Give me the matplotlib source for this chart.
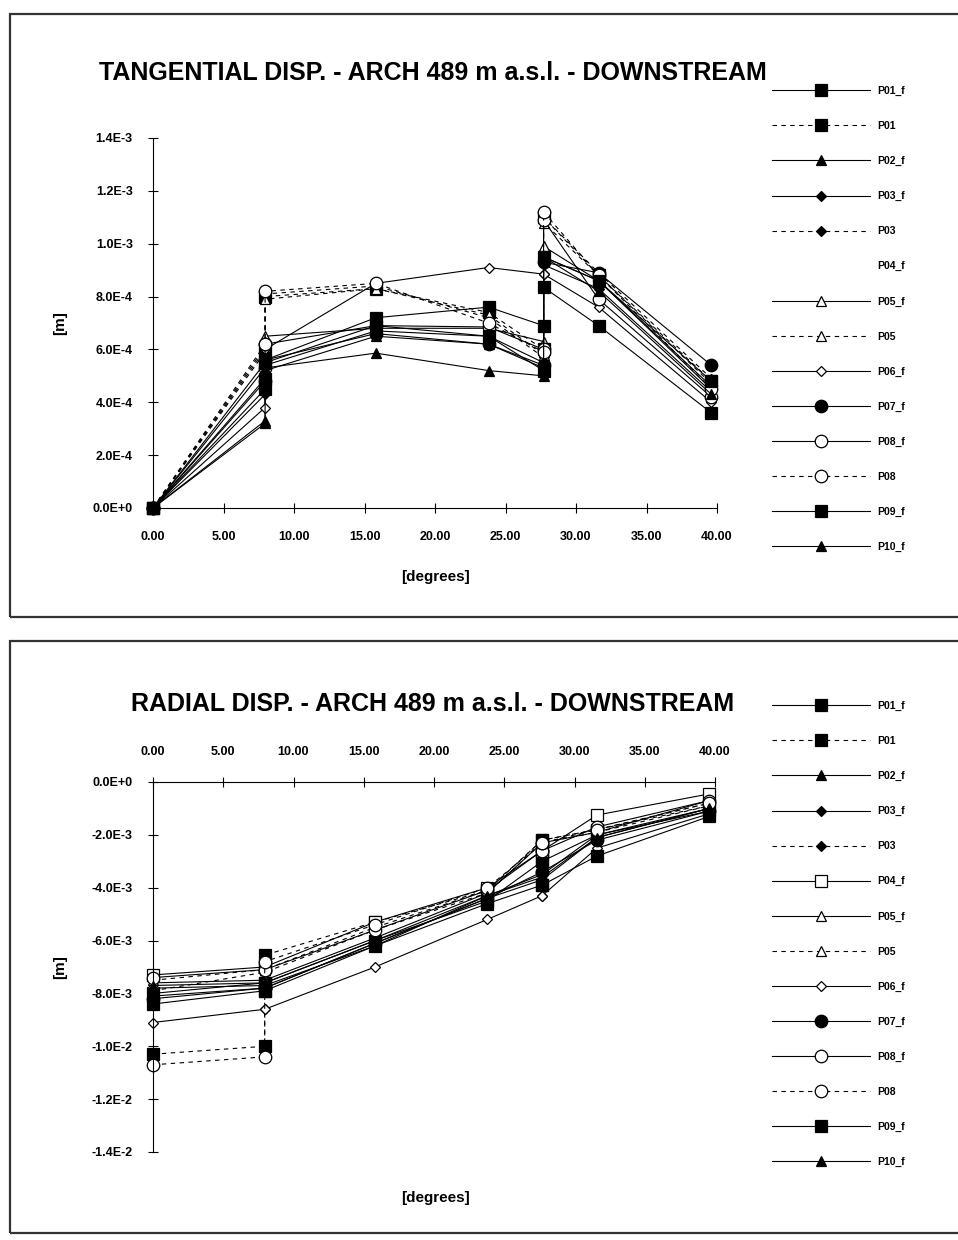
import matplotlib
matplotlib.use("Agg")
import matplotlib.pyplot as plt
from matplotlib.patches import Rectangle
from matplotlib.lines import Line2D

plt.rcParams['font.family'] = ['Liberation Sans', 'DejaVu Sans']

# arch angle of each measuring point (points at 8 and 27.7 deg are given twice)
angles = [0.0, 7.95, 7.95, 15.8, 23.8, 27.7, 27.7, 31.6, 39.6]

names = ['P01_f', 'P01', 'P02_f', 'P03_f', 'P03', 'P04_f', 'P05_f', 'P05',
         'P06_f', 'P07_f', 'P08_f', 'P08', 'P09_f', 'P10_f']

# tangential displacement [1e-4 m]
tang = {
    'P01_f': [0, 4.5, 5.6, 7.2, 7.6, 6.9, 8.35, 6.9, 3.6],
    'P01':   [0, 6.0, 8.0, 8.3, 7.4, 6.0, 11.0, 8.8, 4.8],
    'P02_f': [0, 3.3, 5.2, 6.5, 6.2, 5.3, 9.5, 8.6, 4.5],
    'P03_f': [0, 4.3, 5.4, 6.7, 6.5, 5.5, 9.2, 8.3, 4.4],
    'P03':   [0, 5.9, 8.1, 8.4, 7.2, 5.7, 11.0, 8.9, 4.9],
    'P04_f': None,
    'P05_f': [0, 5.5, 6.5, 6.8, 6.8, 6.3, 9.9, 8.6, 4.6],
    'P05':   [0, 6.1, 7.9, 8.3, 7.3, 5.8, 10.8, 8.8, 4.7],
    'P06_f': [0, 3.8, 6.0, 8.5, 9.1, 8.85, 8.85, 7.6, 4.0],
    'P07_f': [0, 4.8, 5.6, 6.6, 6.2, 5.4, 9.3, 8.9, 5.4],
    'P08_f': [0, 5.3, 6.2, 6.9, 6.85, 6.0, 10.9, 7.9, 4.2],
    'P08':   [0, 6.2, 8.2, 8.5, 7.0, 5.9, 11.2, 8.8, 4.5],
    'P09_f': [0, 4.9, 5.5, 6.9, 6.5, 5.2, 9.5, 8.6, 4.8],
    'P10_f': [0, 3.2, 5.3, 5.86, 5.2, 5.0, 9.5, 8.2, 4.3],
}

# radial displacement [1e-3 m]
rad = {
    'P01_f': [-8.0, -7.6, -7.6, -6.0, -4.5, -3.0, -3.0, -2.0, -1.1],
    'P01':   [-10.3, -10.0, -6.55, -5.3, -4.1, -2.2, -2.2, -1.8, -0.9],
    'P02_f': [-7.8, -7.7, -7.7, -6.2, -4.3, -3.5, -3.5, -2.0, -1.0],
    'P03_f': [-8.1, -7.8, -7.8, -6.1, -4.4, -3.7, -3.7, -2.1, -1.0],
    'P03':   [-7.9, -7.2, -7.2, -5.6, -4.2, -2.3, -2.3, -1.9, -0.9],
    'P04_f': [-7.3, -7.0, -7.0, -5.3, -4.0, -2.6, -2.6, -1.25, -0.45],
    'P05_f': [-7.6, -7.5, -7.5, -5.9, -4.2, -2.3, -2.3, -1.9, -0.7],
    'P05':   [-7.5, -7.1, -7.1, -5.5, -4.1, -2.2, -2.2, -1.8, -0.8],
    'P06_f': [-9.1, -8.6, -8.6, -7.0, -5.2, -4.3, -4.3, -2.5, -1.2],
    'P07_f': [-8.2, -7.8, -7.8, -6.1, -4.4, -3.4, -3.4, -2.2, -1.1],
    'P08_f': [-7.4, -7.1, -7.1, -5.6, -4.1, -2.6, -2.6, -1.7, -0.7],
    'P08':   [-10.7, -10.4, -6.8, -5.4, -4.0, -2.3, -2.3, -1.8, -0.8],
    'P09_f': [-8.4, -7.9, -7.9, -6.2, -4.6, -3.9, -3.9, -2.8, -1.3],
    'P10_f': [-7.7, -7.6, -7.6, -6.0, -4.3, -3.6, -3.6, -2.1, -1.0],
}

x_ticks = [0, 5, 10, 15, 20, 25, 30, 35, 40]
x_labels = ['0.00', '5.00', '10.00', '15.00', '20.00', '25.00', '30.00', '35.00', '40.00']
tang_ticks = [0, 2e-4, 4e-4, 6e-4, 8e-4, 1e-3, 1.2e-3, 1.4e-3]
tang_labels = ['0.0E+0', '2.0E-4', '4.0E-4', '6.0E-4', '8.0E-4', '1.0E-3', '1.2E-3', '1.4E-3']
rad_ticks = [0, -2e-3, -4e-3, -6e-3, -8e-3, -1e-2, -1.2e-2, -1.4e-2]
rad_labels = ['0.0E+0', '-2.0E-3', '-4.0E-3', '-6.0E-3', '-8.0E-3', '-1.0E-2', '-1.2E-2', '-1.4E-2']

# marker, filled, dashed
style = {
    'P01_f': ('s', True, False), 'P01': ('s', True, True),
    'P02_f': ('^', True, False), 'P03_f': ('D', True, False),
    'P03': ('D', True, True), 'P04_f': ('s', False, False),
    'P05_f': ('^', False, False), 'P05': ('^', False, True),
    'P06_f': ('D', False, False), 'P07_f': ('o', True, False),
    'P08_f': ('o', False, False), 'P08': ('o', False, True),
    'P09_f': ('s', True, False), 'P10_f': ('^', True, False),
}
msize = {'s': 8.5, '^': 7.5, 'D': 5.5, 'o': 9}

W, H = 958, 1240
fig = plt.figure(figsize=(W / 100, H / 100), dpi=100)

# panel frames
for y0, y1 in [(14, 617), (641, 1233)]:
    fig.patches.append(Rectangle((10 / W, 1 - y1 / H), 1.0, (y1 - y0) / H,
                                 transform=fig.transFigure, fill=False,
                                 lw=1.6, edgecolor='#333333'))


def rect_center_y(rect):
    return (1 - rect[1] - rect[3] / 2) * H


def draw_panel(rect, data, scale, yticks, ylabels, title, title_y, top_axis, legend_top):
    ax = fig.add_axes(rect)
    handles = []
    for name in names:
        m, filled, dashed = style[name]
        kw = dict(color='black', lw=0.8, marker=m, markersize=msize[m],
                  markerfacecolor='black' if filled else 'white',
                  markeredgecolor='black', markeredgewidth=0.9,
                  linestyle=(0, (4, 4)) if dashed else '-', clip_on=False)
        vals = data[name]
        if vals is not None:
            ax.plot(angles, [v * scale for v in vals], **kw)
            handles.append(Line2D([], [], **kw))
        else:
            handles.append(Line2D([], [], color='none', marker='none'))
    ax.set_xlim(0, 40)
    ax.set_ylim(min(yticks), max(yticks))
    ax.set_xticks(x_ticks)
    ax.set_xticklabels(x_labels, fontsize=9, fontweight='bold')
    ax.set_yticks(yticks)
    ax.set_yticklabels(ylabels, fontsize=9, fontweight='bold')
    ax.spines['right'].set_visible(False)
    if top_axis:
        ax.spines['bottom'].set_visible(False)
        ax.xaxis.tick_top()
        ax.tick_params(axis='x', pad=14)
    else:
        ax.spines['top'].set_visible(False)
        ax.tick_params(axis='x', pad=13)
    ax.tick_params(direction='inout', length=7, width=0.8)
    ax.tick_params(axis='y', pad=11)
    ax.patch.set_alpha(0)
    fig.text(60 / W, 1 - rect_center_y(rect) / H, '[m]', fontsize=11,
             fontweight='bold', rotation=90, ha='center', va='center')
    fig.text(433 / W, 1 - title_y / H, title, fontsize=18, fontweight='bold',
             ha='center', va='center')
    fig.legend(handles, names, loc='upper left', bbox_to_anchor=(772 / W, 1 - legend_top / H),
               frameon=False, prop={'size': 7.5, 'weight': 'bold'},
               handlelength=9.4, handletextpad=0.75, labelspacing=2.4,
               borderaxespad=0, borderpad=0)
    return ax


ax1 = draw_panel([153 / W, 1 - 508 / H, 564 / W, 370 / H], tang, 1e-4,
                 tang_ticks, tang_labels,
                 'TANGENTIAL DISP. - ARCH 489 m a.s.l. - DOWNSTREAM', 73, False, 86)
fig.text(435 / W, 1 - 577 / H, '[degrees]', fontsize=11, fontweight='bold',
         ha='center', va='center')

ax2 = draw_panel([153 / W, 1 - 1152 / H, 562 / W, 370 / H], rad, 1e-3,
                 rad_ticks, rad_labels,
                 'RADIAL DISP. - ARCH 489 m a.s.l. - DOWNSTREAM', 704, True, 701)
fig.text(435 / W, 1 - 1198 / H, '[degrees]', fontsize=11, fontweight='bold',
         ha='center', va='center')

fig.savefig('out.png', dpi=100)
